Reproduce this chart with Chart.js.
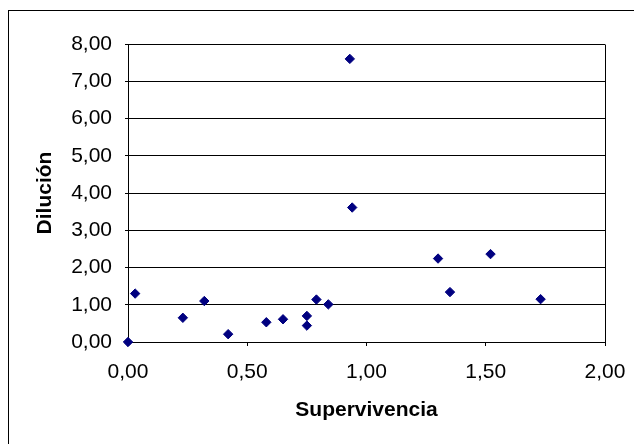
<!DOCTYPE html>
<html>
<head>
<meta charset="utf-8">
<script src="https://cdn.jsdelivr.net/npm/chart.js@4/dist/chart.umd.min.js"></script>
<style>
html,body{margin:0;padding:0;background:#fff;}
canvas{display:block;}
</style>
</head>
<body>
<canvas id="c" width="634" height="444"></canvas>
<script>
// ---- data ----
const supervivencia = [0.00, 0.03, 0.23, 0.32, 0.42, 0.58, 0.65, 0.75, 0.75, 0.79, 0.84, 0.93, 0.94, 1.30, 1.35, 1.52, 1.73];
const dilucion      = [0.00, 1.30, 0.65, 1.10, 0.21, 0.53, 0.61, 0.70, 0.44, 1.14, 1.01, 7.60, 3.61, 2.24, 1.34, 2.36, 1.15];
const xTickLabels = ['0,00', '0,50', '1,00', '1,50', '2,00'];
const yTickLabels = ['0,00', '1,00', '2,00', '3,00', '4,00', '5,00', '6,00', '7,00', '8,00'];
const xAxisTitle = 'Supervivencia';
const yAxisTitle = 'Dilución';

const points = supervivencia.map((x, i) => ({ x: x, y: dilucion[i] }));
const FONT = "'Liberation Sans', Arial, Helvetica, sans-serif";

const framePlugin = {
  id: 'frame',
  beforeDraw(chart) {
    const ctx = chart.ctx;
    ctx.save();
    ctx.fillStyle = '#ffffff';
    ctx.fillRect(0, 0, chart.width, chart.height);
    ctx.strokeStyle = '#000000';
    ctx.lineWidth = 1;
    ctx.strokeRect(8.5, 10.5, 800, 600);
    ctx.restore();
  },
  beforeDatasetsDraw(chart) {
    const a = chart.chartArea;
    const ctx = chart.ctx;
    ctx.save();
    ctx.strokeStyle = '#000000';
    ctx.lineWidth = 1;
    const xr = Math.round(a.right - 0.5) + 0.5;
    ctx.beginPath();
    ctx.moveTo(xr, Math.round(a.top - 0.5) + 0.5);
    ctx.lineTo(xr, Math.round(a.bottom - 0.5) + 0.5);
    ctx.stroke();
    ctx.restore();
  }
};

new Chart(document.getElementById('c'), {
  type: 'scatter',
  data: {
    datasets: [{
      data: points,
      clip: false,
      pointStyle: 'rectRot',
      pointRadius: 4.7,
      pointBorderWidth: 1,
      backgroundColor: '#000080',
      borderColor: '#000080'
    }]
  },
  options: {
    responsive: false,
    animation: false,
    events: [],
    layout: { padding: { left: 0, top: 44, right: 29, bottom: 0 } },
    plugins: { legend: { display: false }, tooltip: { enabled: false } },
    scales: {
      x: {
        type: 'linear',
        min: 0, max: 2,
        afterFit(scale) { scale.height = 102; scale.paddingLeft = 0; scale.paddingRight = 0; },
        ticks: {
          stepSize: 0.5,
          padding: 14,
          color: '#000',
          font: { family: FONT, size: 21 },
          maxRotation: 0,
          autoSkip: false,
          callback: (v, i) => xTickLabels[i]
        },
        grid: { drawOnChartArea: false, drawTicks: true, tickLength: 4, color: '#000', lineWidth: 1 },
        border: { display: true, color: '#000', width: 1 },
        title: {
          display: true,
          text: xAxisTitle,
          color: '#000',
          font: { family: FONT, size: 21, weight: 'bold' },
          padding: { top: 0, bottom: 21 }
        }
      },
      y: {
        type: 'linear',
        min: 0, max: 8,
        afterFit(scale) { scale.width = 128; scale.paddingTop = 0; scale.paddingBottom = 0; },
        ticks: {
          stepSize: 1,
          padding: 13,
          color: '#000',
          font: { family: FONT, size: 21 },
          autoSkip: false,
          callback: (v, i) => yTickLabels[i]
        },
        grid: { drawOnChartArea: true, drawTicks: true, tickLength: 3, color: '#000', lineWidth: 1 },
        border: { display: true, color: '#000', width: 1 },
        title: {
          display: true,
          text: yAxisTitle,
          color: '#000',
          font: { family: FONT, size: 21, weight: 'bold' },
          padding: { top: 33, bottom: 0 }
        }
      }
    }
  },
  plugins: [framePlugin]
});
</script>
</body>
</html>
